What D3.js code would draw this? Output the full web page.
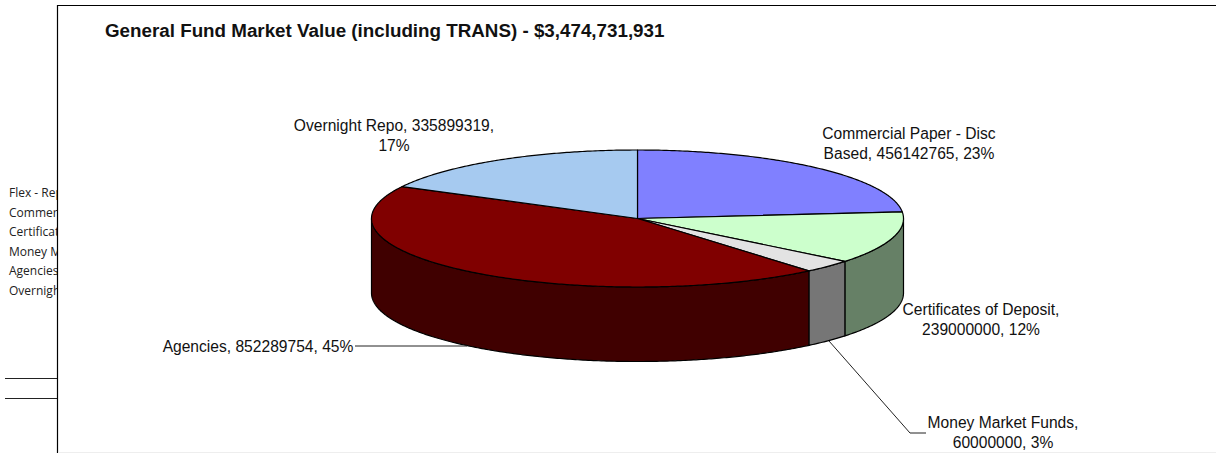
<!DOCTYPE html>
<html>
<head>
<meta charset="utf-8">
<script src="https://cdn.jsdelivr.net/npm/d3@7"></script>
<style>
  html, body { margin: 0; padding: 0; background: #fff; overflow: hidden; }
  svg { display: block; }
  text { font-family: "Liberation Sans", Arial, sans-serif; fill: #111; }
</style>
</head>
<body>
<svg id="chart" width="1216" height="453"></svg>
<script>
const chartTitle = 'General Fund Market Value (including TRANS) - $3,474,731,931';
const categories = ['Commercial Paper - Disc Based', 'Certificates of Deposit', 'Money Market Funds', 'Agencies', 'Overnight Repo'];
const values = [456142765, 239000000, 60000000, 852289754, 335899319];
const percents = [23, 12, 3, 45, 17];
const topColors = ['#8080ff', '#ccffcc', '#e3e3e3', '#800000', '#a6caf0'];
const sideColors = ['#404080', '#668066', '#767676', '#400000', '#536578'];
const legendNames = ['Flex - Repo', 'Commercial Paper', 'Certificates of Deposit', 'Money Market Funds', 'Agencies', 'Overnight Repo'];

const width = 1216;
const height = 453;
const cx = 637.5, cy = 218.5, rx = 266, ry = 68.5, depth = 74.5;

const svg = d3.select('#chart');

// projection of the unit circle on to the tilted pie
const xPos = d3.scaleLinear().domain([-1, 1]).range([cx - rx, cx + rx]);
const yPos = d3.scaleLinear().domain([-1, 1]).range([cy - ry, cy + ry]);

const arcs = d3.pie().value(d => d).sort(null)(values);

function arcPoints(a0, a1, drop) {
  const n = Math.max(2, Math.ceil((a1 - a0) / 0.01));
  return d3.range(n + 1).map(i => {
    const t = a0 + (a1 - a0) * i / n;
    return [xPos(Math.sin(t)), yPos(-Math.cos(t)) + drop];
  });
}
const line = d3.line();

// frame, cut off like the original
svg.append('defs').append('clipPath').attr('id', 'legendClip')
  .append('rect').attr('x', 0).attr('y', 0).attr('width', 57).attr('height', height);

const legend = svg.append('g').attr('clip-path', 'url(#legendClip)');
legend.selectAll('text')
  .data(legendNames)
  .join('text')
  .attr('x', 9)
  .attr('y', (d, i) => 197 + i * 19.6)
  .style('font-family', '"Open Sans", sans-serif')
  .style('font-size', '12px')
  .style('fill', '#222')
  .text(d => d);

svg.selectAll('.stub')
  .data([378.5, 398.5])
  .join('line')
  .attr('class', 'stub')
  .attr('x1', 5).attr('x2', 57)
  .attr('y1', d => d).attr('y2', d => d)
  .attr('stroke', '#222');

svg.append('rect').attr('x', 58).attr('y', 6).attr('width', width - 58).attr('height', height - 6).attr('fill', '#fff');
svg.append('line').attr('x1', 57.5).attr('x2', 57.5).attr('y1', 5).attr('y2', height).attr('stroke', '#000').attr('stroke-width', 1.2);
svg.append('line').attr('x1', 57).attr('x2', width).attr('y1', 5.5).attr('y2', 5.5).attr('stroke', '#000').attr('stroke-width', 1.2);
svg.append('line').attr('x1', 58).attr('x2', width).attr('y1', 452.5).attr('y2', 452.5).attr('stroke', '#eee');

svg.append('text')
  .attr('x', 105).attr('y', 37)
  .style('font-size', '18.8px')
  .style('font-weight', 'bold')
  .text(chartTitle);

// walls of the front half
const walls = svg.append('g');
arcs.forEach((d, i) => {
  const a0 = Math.max(d.startAngle, Math.PI / 2);
  const a1 = Math.min(d.endAngle, Math.PI * 1.5);
  if (a0 >= a1) return;
  const upper = arcPoints(a0, a1, 0);
  const lower = arcPoints(a0, a1, depth).reverse();
  walls.append('path')
    .attr('d', line(upper.concat(lower)) + 'Z')
    .attr('fill', sideColors[i])
    .attr('stroke', '#000')
    .attr('stroke-width', 1.2);
});

// top face
svg.append('g').selectAll('path')
  .data(arcs)
  .join('path')
  .attr('d', d => line([[cx, cy]].concat(arcPoints(d.startAngle, d.endAngle, 0))) + 'Z')
  .attr('fill', (d, i) => topColors[i])
  .attr('stroke', '#000')
  .attr('stroke-width', 1.2)
  .attr('stroke-linejoin', 'round');

// leader lines
const leaders = [
  [[355, 346], [467, 346]],
  [[829, 341], [910, 433], [926, 433]]
];
svg.append('g').selectAll('path')
  .data(leaders)
  .join('path')
  .attr('d', d => line(d))
  .attr('fill', 'none')
  .attr('stroke', '#222')
  .attr('stroke-width', 1);

// data labels
const labelLines = categories.map((c, i) => {
  const tail = `${values[i]}, ${percents[i]}%`;
  if (i === 0) return ['Commercial Paper - Disc', `Based, ${tail}`];
  if (i === 1) return [`${c},`, tail];
  if (i === 2) return [`${c},`, tail];
  if (i === 3) return [`${c}, ${tail}`];
  return [`${c}, ${values[i]},`, `${percents[i]}%`];
});
const labelAnchors = [[909, 139], [981, 315], [1003, 428], [258, 352], [394, 131]];

const labels = svg.append('g').selectAll('text')
  .data(labelLines)
  .join('text')
  .attr('text-anchor', 'middle')
  .style('font-size', '15.6px');

labels.each(function (d, i) {
  d3.select(this).selectAll('tspan')
    .data(d)
    .join('tspan')
    .attr('x', labelAnchors[i][0])
    .attr('y', (s, k) => labelAnchors[i][1] + k * 19.5)
    .text(s => s);
});
</script>
</body>
</html>
